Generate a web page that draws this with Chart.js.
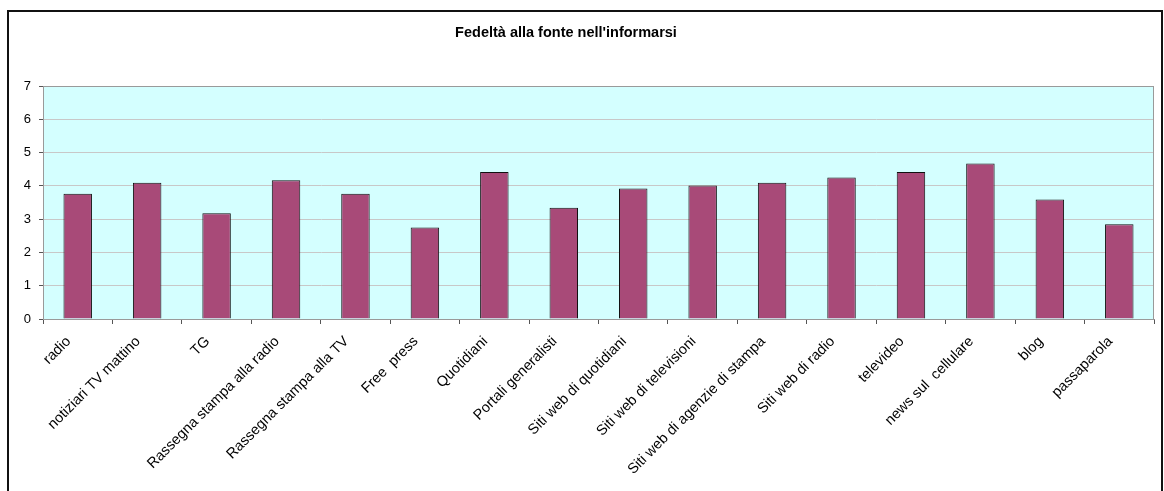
<!DOCTYPE html>
<html>
<head>
<meta charset="utf-8">
<script src="https://cdn.jsdelivr.net/npm/chart.js@4/dist/chart.umd.min.js"></script>
<style>
  html, body { margin: 0; padding: 0; background: #fff; }
  #frame {
    position: absolute; left: 7px; top: 10px;
    width: 1152px; height: 500px;
    border: 2px solid #111;
  }
  #wrap { position: absolute; left: 0; top: 0; width: 1164px; height: 491px; }
</style>
</head>
<body>
<div id="frame"></div>
<div id="wrap"><canvas id="fidelityChart" width="1164" height="491"></canvas></div>
<script>
const chartTitle = "Fedeltà alla fonte nell'informarsi";

const categories = [
  "radio",
  "notiziari TV mattino",
  "TG",
  "Rassegna stampa alla radio",
  "Rassegna stampa alla TV",
  "Free  press",
  "Quotidiani",
  "Portali generalisti",
  "Siti web di quotidiani",
  "Siti web di televisioni",
  "Siti web di agenzie di stampa",
  "Siti web di radio",
  "televideo",
  "news sul  cellulare",
  "blog",
  "passaparola"
];

const fidelityValues = [3.76, 4.09, 3.18, 4.17, 3.76, 2.75, 4.42, 3.34, 3.92, 4.01, 4.09, 4.25, 4.42, 4.67, 3.59, 2.85];

const yMin = 0;
const yMax = 7;
const yStep = 1;

const plotFrame = {
  id: "plotFrame",
  beforeDraw(chart) {
    const { ctx, chartArea: a } = chart;
    ctx.save();
    ctx.fillStyle = "#d4ffff";
    ctx.fillRect(a.left, a.top, a.right - a.left, a.bottom - a.top);
    ctx.restore();
  },
  afterDatasetsDraw(chart) {
    const { ctx, chartArea: a } = chart;
    ctx.save();
    ctx.strokeStyle = "#9a9a9a";
    ctx.lineWidth = 1;
    ctx.strokeRect(a.left + 0.5, a.top + 0.5, a.right - a.left - 1, a.bottom - a.top);
    ctx.fillStyle = "#000";
    ctx.font = "bold 14.5px 'Liberation Sans', Arial, sans-serif";
    ctx.textAlign = "center";
    ctx.textBaseline = "middle";
    ctx.fillText(chartTitle, 566, 33);
    ctx.restore();
  }
};

const ctx = document.getElementById("fidelityChart").getContext("2d");

new Chart(ctx, {
  type: "bar",
  data: {
    labels: categories,
    datasets: [
      {
        data: fidelityValues,
        backgroundColor: "#a84a78",
        borderColor: "#111",
        borderWidth: 1,
        borderSkipped: "bottom",
        categoryPercentage: 1,
        barPercentage: 0.41
      }
    ]
  },
  options: {
    responsive: false,
    animation: false,
    layout: {
      padding: { top: 86, right: 10, left: 0, bottom: 0 }
    },
    plugins: {
      legend: { display: false },
      title: { display: false },
      tooltip: { enabled: false }
    },
    scales: {
      x: {
        afterFit(scale) { scale.height = 172; },
        ticks: {
          autoSkip: false,
          maxRotation: 45,
          minRotation: 45,
          padding: 9,
          labelOffset: -9,
          color: "#000",
          font: { family: "'Liberation Sans', Arial, sans-serif", size: 14.5 }
        },
        grid: {
          offset: true,
          drawOnChartArea: false,
          tickLength: 5,
          tickColor: "#555"
        },
        border: { color: "#8a8a8a", width: 1 }
      },
      y: {
        min: yMin,
        max: yMax,
        afterFit(scale) { scale.width = 43; },
        ticks: {
          stepSize: yStep,
          padding: 8,
          color: "#000",
          font: { family: "'Liberation Sans', Arial, sans-serif", size: 13 }
        },
        grid: {
          color: "#c8c8c8",
          tickLength: 4,
          tickColor: "#555"
        },
        border: { color: "#555", width: 1 }
      }
    }
  },
  plugins: [plotFrame]
});
</script>
</body>
</html>
